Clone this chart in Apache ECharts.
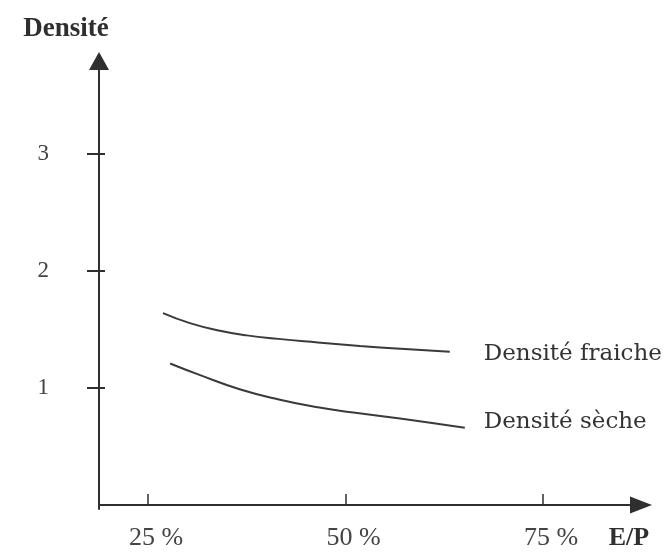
<!DOCTYPE html>
<html>
<head>
<meta charset="utf-8">
<script src="https://cdn.jsdelivr.net/npm/echarts@6/dist/echarts.min.js"></script>
<style>
html,body{margin:0;padding:0;background:#fff;}
#c{width:665px;height:556px;}
</style>
</head>
<body>
<div id="c"></div>
<script>
const xTicks = [25, 50, 75];
const yTicks = [1, 2, 3];
const fraicheX = [26.9, 30.3, 34.1, 37.5, 41.5, 46.5, 51.8, 57.0, 63.2];
const fraicheY = [1.64, 1.555, 1.49, 1.45, 1.42, 1.39, 1.36, 1.335, 1.31];
const secheX = [27.8, 31.6, 36.6, 41.7, 46.5, 51.0, 56.9, 65.1];
const secheY = [1.21, 1.11, 0.99, 0.90, 0.835, 0.79, 0.74, 0.66];
const seriesNames = ['Densité fraiche', 'Densité sèche'];
const yName = 'Densité';
const xName = 'E/P';

const pairs = (xs, ys) => xs.map((x, i) => [x, ys[i]]);
const ink = '#2f2f2f';
const X_MIN = 18.8, X_MAX = 87.4, Y_MIN = -0.034, Y_MAX = 3.795;

const chart = echarts.init(document.getElementById('c'));
chart.setOption({
  backgroundColor: '#fff',
  animation: false,
  grid: { left: 99, right: 24, top: 61, bottom: 47, containLabel: false, outerBoundsMode: 'none' },
  xAxis: {
    type: 'value', min: X_MIN, max: X_MAX,
    splitLine: { show: false },
    axisLine: { show: true, lineStyle: { color: ink, width: 2 }, symbol: ['none', 'triangle'], symbolSize: [17, 22] },
    axisTick: { show: true, inside: true, length: 11, customValues: xTicks, lineStyle: { color: ink, width: 1.5 } },
    axisLabel: {
      customValues: xTicks, formatter: v => v + ' %', margin: 16,
      fontFamily: 'Liberation Serif', fontSize: 26, color: '#444', padding: [0, 0, 0, 16]
    },
    name: xName, nameLocation: 'end', nameGap: -12,
    nameTextStyle: { fontFamily: 'Liberation Serif', fontWeight: 'bold', fontSize: 26, color: ink, align: 'center', verticalAlign: 'top', padding: [20, 0, 0, 0] }
  },
  yAxis: [{
    type: 'value', min: Y_MIN, max: Y_MAX,
    splitLine: { show: false },
    axisLine: { show: true, lineStyle: { color: ink, width: 2 }, symbol: ['none', 'triangle'], symbolSize: [20, 18] },
    axisTick: { show: true, inside: false, length: 12, customValues: yTicks, lineStyle: { color: ink, width: 2 } },
    axisLabel: { customValues: yTicks, margin: 50, fontFamily: 'Liberation Serif', fontSize: 23, color: '#444', padding: [0, 0, 8, 0] },
    name: yName, nameLocation: 'end', nameGap: 18,
    nameTextStyle: { fontFamily: 'Liberation Serif', fontWeight: 'bold', fontSize: 27, color: ink, align: 'center', padding: [0, 66, 0, 0] }
  }, {
    type: 'value', min: Y_MIN, max: Y_MAX, position: 'left',
    splitLine: { show: false },
    axisLine: { show: false },
    axisTick: { show: true, inside: true, length: 6, customValues: yTicks, lineStyle: { color: ink, width: 2 } },
    axisLabel: { show: false }
  }],
  series: [{
    name: seriesNames[0], type: 'line', smooth: 0.5, showSymbol: false,
    data: pairs(fraicheX, fraicheY),
    lineStyle: { color: '#3a3a3a', width: 2 },
    endLabel: { show: true, formatter: seriesNames[0], offset: [26, 2], fontFamily: 'DejaVu Serif', fontSize: 23, color: '#333' }
  }, {
    name: seriesNames[1], type: 'line', smooth: 0.5, showSymbol: false,
    data: pairs(secheX, secheY),
    lineStyle: { color: '#3a3a3a', width: 2 },
    endLabel: { show: true, formatter: seriesNames[1], offset: [11, -6], fontFamily: 'DejaVu Serif', fontSize: 23, color: '#333' }
  }]
});
</script>
</body>
</html>
